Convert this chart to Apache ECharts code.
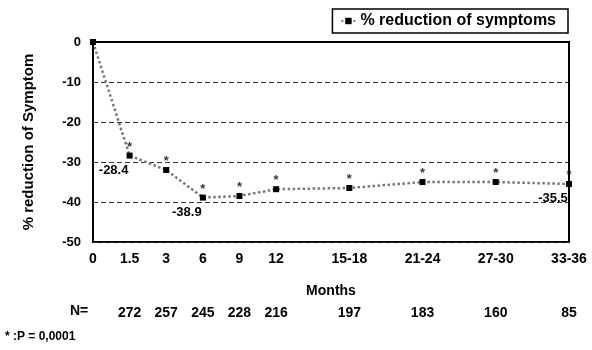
<!DOCTYPE html>
<html>
<head>
<meta charset="utf-8">
<script src="https://cdn.jsdelivr.net/npm/echarts@6/dist/echarts.min.js"></script>
<style>
html,body{margin:0;padding:0;background:#fff;}
#c{width:592px;height:350px;}
</style>
</head>
<body>
<div id="c"></div>
<script>
var categories = ['0', '1.5', '3', '6', '9', '12', '', '15-18', '', '21-24', '', '27-30', '', '33-36'];
var reduction = [0, -28.4, -32, -38.9, -38.5, -36.8, null, -36.5, null, -35, null, -35, null, -35.5];
var valueLabels = ['', '-28.4', '', '-38.9', '', '', '', '', '', '', '', '', '', '-35.5'];
var significant = [0, 1, 1, 1, 1, 1, 0, 1, 0, 1, 0, 1, 0, 1];
var nCounts = ['', '272', '257', '245', '228', '216', '', '197', '', '183', '', '160', '', '85'];
var yTicks = [0, -10, -20, -30, -40, -50];

var FONT = 'Liberation Sans, Arial, sans-serif';
var chart = echarts.init(document.getElementById('c'));

var sigData = reduction.map(function (v, i) { return significant[i] && v !== null ? v : null; });

chart.setOption({
  animation: false,
  backgroundColor: '#fff',
  textStyle: { fontFamily: FONT },
  grid: { left: 93, right: 23, top: 42, bottom: 108, show: true, borderColor: '#000', borderWidth: 2, backgroundColor: 'transparent' },
  legend: {
    data: ['% reduction of symptoms'],
    right: 24, top: 9,
    borderColor: '#000', borderWidth: 1.5,
    padding: [4, 12, 4, 8],
    itemWidth: 14, itemHeight: 8,
    textStyle: { fontFamily: FONT, fontWeight: 'bold', fontSize: 16, color: '#000' }
  },
  xAxis: [{
    type: 'category', data: categories, boundaryGap: false,
    axisLine: { lineStyle: { color: '#000', width: 2 } },
    axisTick: { show: false },
    axisLabel: { interval: 0, margin: 10, color: '#000', fontWeight: 'bold', fontSize: 14, fontFamily: FONT },
    name: 'Months', nameLocation: 'middle', nameGap: 42,
    nameTextStyle: { color: '#000', fontWeight: 'bold', fontSize: 14, fontFamily: FONT }
  }, {
    type: 'category', data: nCounts, boundaryGap: false, position: 'bottom', offset: 56,
    axisLine: { show: false }, axisTick: { show: false },
    axisLabel: { interval: 0, margin: 8, color: '#000', fontWeight: 'bold', fontSize: 14, fontFamily: FONT }
  }],
  yAxis: {
    type: 'value', min: -50, max: 0, interval: 10,
    axisLine: { show: true, lineStyle: { color: '#000', width: 2 } },
    axisTick: { show: false },
    axisLabel: { margin: 12, color: '#000', fontWeight: 'bold', fontSize: 13, fontFamily: FONT,
      formatter: function (v) { return yTicks.indexOf(v) >= 0 ? String(v) : ''; } },
    splitLine: { show: true, lineStyle: { color: '#333', type: [5, 3], width: 1.2 } },
    name: '% reduction of Symptom', nameLocation: 'middle', nameGap: 57, nameRotate: 90,
    nameTextStyle: { color: '#000', fontWeight: 'bold', fontSize: 15, fontFamily: FONT }
  },
  series: [{
    name: '% reduction of symptoms',
    type: 'line',
    data: reduction,
    connectNulls: true,
    symbol: 'rect', symbolSize: 6,
    itemStyle: { color: '#000' },
    lineStyle: { color: '#777', width: 2.5, type: 'dotted' },
    label: {
      show: true, position: 'bottom', offset: [-16, 0],
      color: '#000', fontWeight: 'bold', fontSize: 13, fontFamily: FONT,
      formatter: function (p) { return valueLabels[p.dataIndex]; }
    },
    z: 3
  }, {
    name: 'sig',
    type: 'scatter',
    data: sigData,
    symbol: 'circle', symbolSize: 0.1,
    itemStyle: { color: '#000' },
    label: { show: true, position: 'top', distance: 2, formatter: '*', color: '#000', fontWeight: 'bold', fontSize: 13, fontFamily: FONT },
    silent: true
  }],
  graphic: [{
    type: 'text', left: 70, top: 304,
    style: { text: 'N=', fill: '#000', font: 'bold 14px ' + FONT }
  }, {
    type: 'text', left: 5, top: 331,
    style: { text: '* :P = 0,0001', fill: '#000', font: 'bold 12px ' + FONT }
  }]
});
</script>
</body>
</html>
